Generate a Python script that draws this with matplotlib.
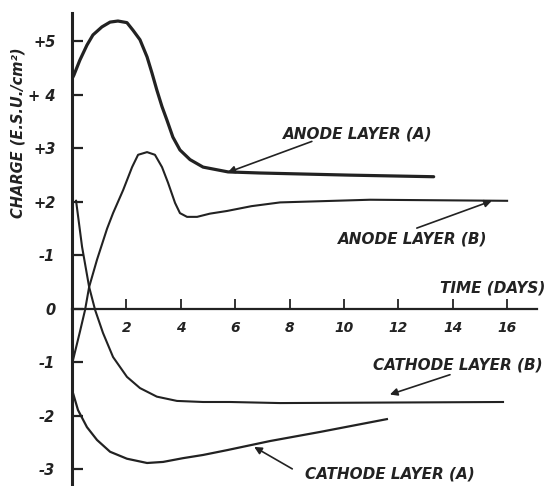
import matplotlib
matplotlib.use("Agg")
import numpy as np
import matplotlib.pyplot as plt

# Curves (time in days, charge in e.s.u./cm^2)
anodeA_t = [0.0, 0.07, 0.29, 0.55, 0.77, 1.10, 1.40, 1.69, 2.02, 2.24, 2.50, 2.76, 2.94, 3.12, 3.31, 3.49,
            3.71, 3.97, 4.34, 4.82, 5.33, 5.74, 6.9, 10.2, 13.3]
anodeA_q = [4.30, 4.37, 4.65, 4.93, 5.12, 5.27, 5.36, 5.38, 5.35, 5.21, 5.03, 4.71, 4.41, 4.09, 3.78, 3.53,
            3.21, 2.97, 2.79, 2.65, 2.60, 2.56, 2.54, 2.50, 2.47]

anodeB_t = [0.04, 0.29, 0.48, 0.63, 0.92, 1.29, 1.51, 1.88, 2.21, 2.43, 2.76, 3.05, 3.31, 3.53, 3.79, 3.97,
            4.23, 4.60, 5.07, 5.70, 6.6, 7.65, 10.96, 16.0]
anodeB_q = [-0.95, -0.43, -0.02, 0.41, 0.92, 1.50, 1.79, 2.22, 2.65, 2.88, 2.93, 2.88, 2.65, 2.36, 1.98, 1.79,
            1.72, 1.72, 1.78, 1.83, 1.92, 1.99, 2.04, 2.02]

cathodeB_t = [0.15, 0.37, 0.63, 0.85, 1.14, 1.51, 2.02, 2.50, 3.12, 3.86, 4.82, 5.81, 7.65, 15.85]
cathodeB_q = [2.02, 1.16, 0.41, -0.02, -0.45, -0.90, -1.27, -1.48, -1.64, -1.72, -1.74, -1.74, -1.76, -1.74]

cathodeA_t = [0.0, 0.22, 0.55, 0.92, 1.40, 2.02, 2.76, 3.35, 4.08, 4.82, 5.70, 7.28, 9.12, 11.58]
cathodeA_q = [-1.51, -1.89, -2.21, -2.45, -2.67, -2.80, -2.88, -2.86, -2.79, -2.73, -2.64, -2.47, -2.30, -2.06]

xticks = [2, 4, 6, 8, 10, 12, 14, 16]
yticks = [5, 4, 3, 2, 1, 0, -1, -2, -3]
ylabels = ["+5", "+ 4", "+3", "+2", "-1", "0", "-1", "-2", "-3"]

hand = dict(fontweight="bold", style="italic", family="DejaVu Sans")
ink = "#222222"

fig = plt.figure(figsize=(5.53, 4.86), dpi=100)
ax = fig.add_axes([72 / 553, 0, 465 / 553, 473 / 486])

ax.plot(anodeA_t, anodeA_q, color=ink, lw=2.3, solid_joinstyle="round", solid_capstyle="round")
ax.plot(anodeB_t, anodeB_q, color=ink, lw=1.5, solid_joinstyle="round")
ax.plot(cathodeB_t, cathodeB_q, color=ink, lw=1.5, solid_joinstyle="round")
ax.plot(cathodeA_t, cathodeA_q, color=ink, lw=1.6, solid_joinstyle="round")

ax.set_xlim(0, 17.1)
ax.set_ylim(-3.31, 5.53)

ax.spines["top"].set_visible(False)
ax.spines["right"].set_visible(False)
ax.spines["bottom"].set_position(("data", 0))
ax.spines["left"].set_linewidth(2.2)
ax.spines["bottom"].set_linewidth(1.6)
ax.spines["left"].set_color(ink)
ax.spines["bottom"].set_color(ink)

ax.set_xticks(xticks)
ax.set_xticklabels([str(t) for t in xticks], fontsize=10, **hand)
ax.set_yticks(yticks)
ax.set_yticklabels(ylabels, fontsize=10.5, **hand)
ax.tick_params(axis="x", direction="in", length=7, width=1.3, pad=9, colors=ink)
ax.tick_params(axis="y", direction="in", length=8, width=1.6, pad=12, colors=ink)

fig.text(18 / 553, 1 - 133 / 486, "CHARGE (E.S.U./cm²)", rotation=90,
         ha="center", va="center", fontsize=10.5, color=ink, **hand)

txt = dict(fontsize=11, color=ink, ha="center", va="center", **hand)
ax.text(10.51, 3.27, "ANODE LAYER (A)", **txt)
ax.text(12.54, 1.31, "ANODE LAYER (B)", **txt)
ax.text(15.48, 0.39, "TIME (DAYS)", **txt)
ax.text(14.19, -1.05, "CATHODE LAYER (B)", **txt)
ax.text(11.69, -3.08, "CATHODE LAYER (A)", **txt)

arrow = dict(arrowstyle="-|>", lw=1.2, color=ink, mutation_scale=11, shrinkA=0, shrinkB=0)
ax.annotate("", xy=(5.72, 2.55), xytext=(8.82, 3.13), arrowprops=arrow)
ax.annotate("", xy=(15.44, 2.02), xytext=(12.68, 1.51), arrowprops=arrow)
ax.annotate("", xy=(11.69, -1.60), xytext=(13.9, -1.23), arrowprops=arrow)
ax.annotate("", xy=(6.7, -2.58), xytext=(8.1, -2.99), arrowprops=arrow)

fig.savefig("out.png", dpi=100)
